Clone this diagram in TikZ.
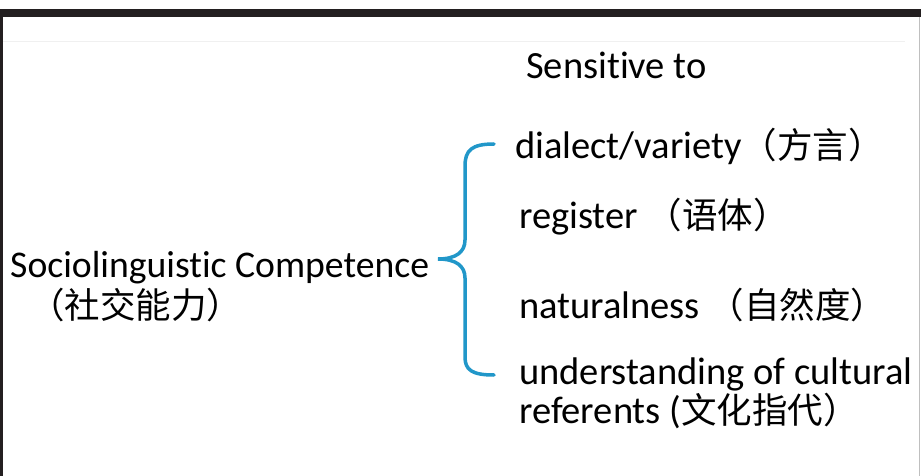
\documentclass[tikz,border=0pt]{standalone}
\usepackage{fontspec}
\setmainfont{Carlito}[Ligatures=NoCommon]
\newfontfamily\cjk{Noto Sans CJK SC}
\newcommand{\zh}[1]{{\cjk\fontsize{35.5}{31}\selectfont #1}}
\definecolor{braceblue}{RGB}{33,151,201}
\definecolor{framedark}{RGB}{35,31,32}

\begin{document}
\begin{tikzpicture}[x=1pt, y=-1pt,
  item/.style={anchor=base west, inner sep=0pt, align=left,
    font=\fontsize{38.5}{31}\selectfont},
  brace/.style={draw=braceblue, line width=3.5pt, line cap=round}]

\useasboundingbox (0,0) rectangle (921,476);
\fill[white] (0,0) rectangle (921,476);

% frame
\fill[framedark] (0,9) rectangle (921,17);
\fill[framedark] (0,9) rectangle (3,476);
\draw[black!25] (919.5,17) -- (919.5,476);
\draw[black!6] (3,41) -- (905,41);

\node[item] (sensitive) at (526, 79) {Sensitive to};
\node[item] (dialect) at (515, 158) {dialect/variety\zh{（方言）}};
\node[item] (register) at (519, 228) {register \zh{（语体）}};
\node[item] (naturalness) at (519, 318) {naturalness \zh{（自然度）}};
\node[item] (cultural) at (519, 423) {understanding of cultural\\referents (\zh{文化指代）}};
\node[item, font=\fontsize{37.7}{41}\selectfont] (competence) at (10, 318)
  {Sociolinguistic Competence\\\hspace*{19pt}\zh{（社交能力）}};

\coordinate (bracetop) at (494, 144);
\coordinate (bracetip) at (438, 259);
\coordinate (bracebot) at (494, 375);

\draw[brace] (bracetop) .. controls (472,144) and (465,150) .. (465,166)
  -- (465,240) .. controls (465,252) and (456,259) .. (bracetip)
  .. controls (456,259) and (465,266) .. (465,278)
  -- (465,357) .. controls (465,370) and (472,375) .. (bracebot);

\end{tikzpicture}
\end{document}
